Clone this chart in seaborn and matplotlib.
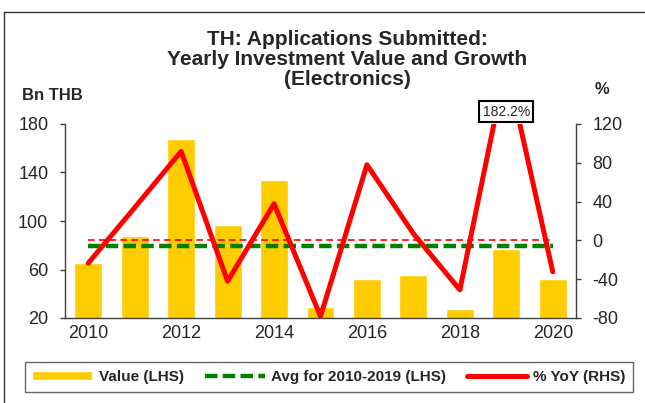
import matplotlib
matplotlib.use("Agg")
import matplotlib.pyplot as plt
from matplotlib.lines import Line2D
import numpy as np
import pandas as pd
import seaborn as sns

# data
years = [2010, 2011, 2012, 2013, 2014, 2015, 2016, 2017, 2018, 2019, 2020]
value_bn_thb = [65.3, 87.4, 167.6, 97.1, 133.8, 29.1, 51.8, 55.4, 27.2, 77.0, 52.1]
yoy_pct = [-23.5, 33.8, 91.8, -42.1, 37.8, -78.3, 78.0, 7.0, -51.0, 182.2, -32.3]
label_years = [2010, 2012, 2014, 2016, 2018, 2020]

bar_color = "#FFCC00"
red = "#FF0000"
green = "#008000"
spine_color = "#404040"

sns.set_style("white")
plt.rcParams["font.family"] = ["Liberation Sans", "DejaVu Sans"]
plt.rcParams["axes.unicode_minus"] = False

W, H = 645, 403
fig = plt.figure(figsize=(W / 100, H / 100), dpi=100)
ax = fig.add_axes([65 / W, 1 - 318 / H, (576 - 65) / W, (318 - 124) / H])

df = pd.DataFrame({"year": years, "value": value_bn_thb})
sns.barplot(data=df, x="year", y="value", order=years, color=bar_color,
            saturation=1, width=0.6, ax=ax, zorder=2)

pos = np.arange(len(years))
avg = np.mean(value_bn_thb[:10])
ax.hlines(avg, pos[0], pos[-1], colors=green, linewidth=3.2,
          linestyles=(0, (2.8, 1.2)), zorder=3)

ax.set_xlim(-0.5, len(years) - 0.5)
ax.set_ylim(20, 180)
ax.set_yticks([20, 60, 100, 140, 180])
ax.set_xlabel("")
ax.set_ylabel("")

# tick marks at category boundaries, labels at centres of every other year
ax.set_xticks(np.arange(-0.5, len(years), 1))
ax.set_xticklabels([])
ax.set_xticks([years.index(y) for y in label_years], minor=True)
ax.set_xticklabels([str(y) for y in label_years], minor=True)
ax.tick_params(axis="x", which="major", direction="out", length=4, width=1,
               color=spine_color)
ax.tick_params(axis="x", which="minor", length=0, pad=5, labelsize=13)
ax.tick_params(axis="y", direction="out", length=3.5, width=1, pad=8.5,
               labelsize=13, color=spine_color)

ax2 = ax.twinx()
sns.lineplot(x=pos, y=yoy_pct, color=red, linewidth=3.6, ax=ax2, zorder=4)
ax2.hlines(0, pos[0], pos[-1], colors=red, linewidth=1.2,
           linestyles=(0, (4, 2.5)), zorder=3)
ax2.set_ylim(-80, 120)
ax2.set_yticks([-80, -40, 0, 40, 80, 120])
ax2.tick_params(axis="y", direction="out", length=3.5, width=1, pad=8.5,
                labelsize=13, color=spine_color)
ax2.set_ylabel("")

for a in (ax, ax2):
    a.spines["top"].set_visible(False)
    for s in ("left", "right", "bottom"):
        a.spines[s].set_color(spine_color)
        a.spines[s].set_linewidth(1)
ax.spines["right"].set_visible(False)
ax2.spines["left"].set_visible(False)
ax2.spines["bottom"].set_visible(False)

# label for the clipped 2019 growth
i19 = years.index(2019)
ax2.annotate(f"{yoy_pct[i19]:.1f}%", xy=(pos[i19], 1.064),
             xycoords=("data", "axes fraction"), ha="center", va="center",
             fontsize=10,
             bbox=dict(boxstyle="square,pad=0.25", fc="white", ec="black", lw=1.5))

# titles and axis units
title_lines = ["TH: Applications Submitted:",
               "Yearly Investment Value and Growth",
               "(Electronics)"]
for k, line in enumerate(title_lines):
    fig.text(347 / W, 1 - (45 + 20 * k) / H, line, ha="center", va="baseline",
             fontsize=15, fontweight="bold")
fig.text(22 / W, 1 - 100 / H, "Bn THB", ha="left", va="baseline",
         fontsize=12, fontweight="bold")
fig.text(602 / W, 1 - 94 / H, "%", ha="center", va="baseline",
         fontsize=12, fontweight="bold")

handles = [Line2D([], [], color=bar_color, lw=5.5, solid_capstyle="butt"),
           Line2D([], [], color=green, lw=3.2, linestyle=(0, (2.8, 1.2))),
           Line2D([], [], color=red, lw=3.6)]
labels = ["Value (LHS)", "Avg for 2010-2019 (LHS)", "% YoY (RHS)"]
leg = fig.legend(handles, labels, loc="center", ncol=3,
                 bbox_to_anchor=(329 / W, 1 - 377 / H), frameon=True,
                 fancybox=False, edgecolor="#404040", handlelength=3.9,
                 handletextpad=0.4, columnspacing=1.4, borderpad=0.5,
                 prop={"weight": "bold", "size": 11})
leg.get_frame().set_linewidth(1)

# outer chart frame (only top and left edges are visible in the crop)
fig.add_artist(Line2D([4 / W, 4 / W], [0, 1 - 11.6 / H], color="#333333", lw=1))
fig.add_artist(Line2D([4 / W, 1], [1 - 11.6 / H, 1 - 11.6 / H], color="#333333", lw=1))

fig.savefig("out.png", dpi=100)
